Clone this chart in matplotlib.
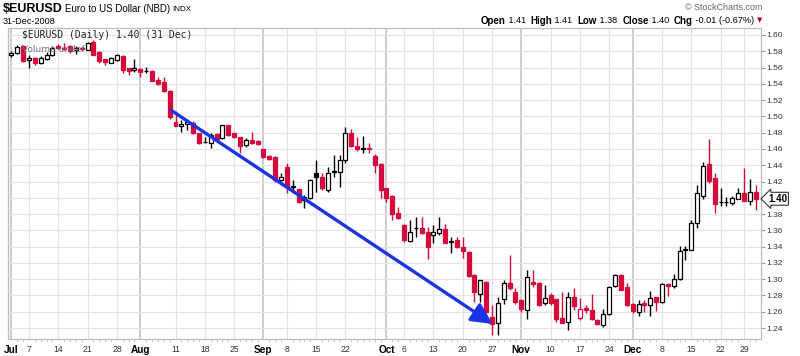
import numpy as np
import pandas as pd
import matplotlib
matplotlib.use("Agg")
import matplotlib.pyplot as plt

# --- data: EURUSD daily candles, Jul-Dec 2008 ---
holidays = ["2008-07-04", "2008-09-01", "2008-11-27", "2008-12-25"]

opens = [
    # Jul
    1.5760, 1.5780, 1.5860, 1.5690, 1.5720, 1.5650, 1.5700, 1.5760, 1.5860, 1.5840, 1.5860,
    1.5810, 1.5840, 1.5820, 1.5920, 1.5790, 1.5700, 1.5660, 1.5690, 1.5740, 1.5595, 1.5570,
    # Aug
    1.5580, 1.5560, 1.5560, 1.5450, 1.5420, 1.5310, 1.4935, 1.4880, 1.4903, 1.4915, 1.4790,
    1.4685, 1.4677, 1.4780, 1.4730, 1.4890, 1.4793, 1.4743, 1.4650, 1.4710, 1.4700,
    # Sep
    1.4599, 1.4513, 1.4497, 1.4220, 1.4382, 1.4135, 1.4104, 1.3973, 1.4000, 1.4300, 1.4251,
    1.4096, 1.4320, 1.4321, 1.4464, 1.4792, 1.4636, 1.4600, 1.4612, 1.4513, 1.4415,
    # Oct
    1.4116, 1.4022, 1.3809, 1.3666, 1.3473, 1.3625, 1.3625, 1.3584, 1.3543, 1.3571, 1.3612,
    1.3460, 1.3481, 1.3400, 1.3339, 1.3052, 1.2822, 1.2965, 1.2540, 1.2462, 1.2753, 1.2950, 1.2847,
    # Nov
    1.2745, 1.2622, 1.2970, 1.2958, 1.2704, 1.2806, 1.2753, 1.2520, 1.2479, 1.2778,
    1.2520, 1.2650, 1.2617, 1.2494, 1.2441, 1.2572, 1.2913, 1.3056, 1.2905,
    # Dec
    1.2700, 1.2593, 1.2712, 1.2687, 1.2777, 1.2716, 1.2946, 1.2913, 1.3003, 1.3356, 1.3356,
    1.3692, 1.4021, 1.4410, 1.4246, 1.3947, 1.3945, 1.3930, 1.3988, 1.4053, 1.3959, 1.4070,
]
highs = [
    1.5800, 1.5880, 1.5880, 1.5750, 1.5730, 1.5740, 1.5790, 1.5870, 1.5890, 1.5900, 1.5880,
    1.5860, 1.5850, 1.5920, 1.5940, 1.5800, 1.5710, 1.5730, 1.5770, 1.5750, 1.5600, 1.5700,
    1.5590, 1.5610, 1.5570, 1.5490, 1.5490, 1.5320, 1.5070, 1.4955, 1.4955, 1.4940, 1.4800,
    1.4750, 1.4790, 1.4790, 1.4900, 1.4900, 1.4800, 1.4750, 1.4735, 1.4804, 1.4715,
    1.4605, 1.4520, 1.4510, 1.4300, 1.4423, 1.4218, 1.4110, 1.4034, 1.4225, 1.4464, 1.4300,
    1.4380, 1.4526, 1.4526, 1.4865, 1.4840, 1.4750, 1.4759, 1.4677, 1.4540, 1.4423,
    1.4125, 1.4030, 1.3891, 1.3680, 1.3727, 1.3768, 1.3768, 1.3645, 1.3666, 1.3768, 1.3678,
    1.3522, 1.3522, 1.3522, 1.3345, 1.3060, 1.2995, 1.2975, 1.2683, 1.2775, 1.2995, 1.3298, 1.2890,
    1.2760, 1.3113, 1.3113, 1.2970, 1.2929, 1.2827, 1.2760, 1.2847, 1.2847, 1.2888,
    1.2765, 1.2683, 1.2818, 1.2510, 1.2634, 1.2913, 1.3069, 1.3064, 1.2954,
    1.2710, 1.2749, 1.2745, 1.2851, 1.2780, 1.2954, 1.2950, 1.3069, 1.3405, 1.3413, 1.3733,
    1.4152, 1.4439, 1.4718, 1.4308, 1.4123, 1.4010, 1.4021, 1.4123, 1.4369, 1.4226, 1.4152,
]
lows = [
    1.5730, 1.5770, 1.5670, 1.5600, 1.5630, 1.5640, 1.5690, 1.5740, 1.5830, 1.5820, 1.5780,
    1.5770, 1.5800, 1.5810, 1.5750, 1.5660, 1.5630, 1.5650, 1.5680, 1.5530, 1.5510, 1.5540,
    1.5490, 1.5530, 1.5430, 1.5380, 1.5300, 1.4970, 1.4880, 1.4810, 1.4830, 1.4780, 1.4660,
    1.4670, 1.4610, 1.4710, 1.4720, 1.4760, 1.4730, 1.4550, 1.4628, 1.4655, 1.4650,
    1.4490, 1.4460, 1.4200, 1.4210, 1.4055, 1.4055, 1.3940, 1.3870, 1.3980, 1.4075, 1.4100,
    1.4075, 1.4259, 1.4137, 1.4423, 1.4620, 1.4580, 1.4546, 1.4546, 1.4300, 1.3993,
    1.3952, 1.3727, 1.3740, 1.3460, 1.3461, 1.3522, 1.3560, 1.3244, 1.3440, 1.3543, 1.3440,
    1.3326, 1.3380, 1.3257, 1.3030, 1.2724, 1.2724, 1.2590, 1.2315, 1.2320, 1.2690, 1.2870, 1.2690,
    1.2601, 1.2507, 1.2909, 1.2670, 1.2683, 1.2683, 1.2479, 1.2458, 1.2376, 1.2622,
    1.2500, 1.2590, 1.2503, 1.2440, 1.2412, 1.2564, 1.2905, 1.2868, 1.2667,
    1.2585, 1.2544, 1.2601, 1.2544, 1.2605, 1.2708, 1.2790, 1.2892, 1.2987, 1.3241, 1.3356,
    1.3631, 1.3980, 1.4185, 1.3815, 1.3897, 1.3905, 1.3906, 1.3980, 1.3959, 1.3906, 1.3848,
]
closes = [
    1.5780, 1.5850, 1.5680, 1.5720, 1.5650, 1.5720, 1.5760, 1.5840, 1.5835, 1.5830, 1.5800,
    1.5840, 1.5830, 1.5900, 1.5760, 1.5680, 1.5665, 1.5720, 1.5750, 1.5565, 1.5558, 1.5600,
    1.5550, 1.5560, 1.5440, 1.5400, 1.5310, 1.4990, 1.4886, 1.4910, 1.4927, 1.4790, 1.4670,
    1.4680, 1.4770, 1.4722, 1.4894, 1.4770, 1.4743, 1.4640, 1.4710, 1.4669, 1.4661,
    1.4505, 1.4476, 1.4218, 1.4260, 1.4137, 1.4140, 1.3952, 1.4014, 1.4220, 1.4251, 1.4116,
    1.4300, 1.4322, 1.4464, 1.4792, 1.4636, 1.4595, 1.4608, 1.4605, 1.4403, 1.4096,
    1.3993, 1.3801, 1.3756, 1.3481, 1.3584, 1.3625, 1.3571, 1.3399, 1.3584, 1.3612, 1.3448,
    1.3461, 1.3400, 1.3347, 1.3040, 1.2837, 1.2985, 1.2601, 1.2448, 1.2712, 1.2950, 1.2890, 1.2724,
    1.2630, 1.3032, 1.2941, 1.2683, 1.2765, 1.2712, 1.2507, 1.2466, 1.2786, 1.2671,
    1.2630, 1.2617, 1.2511, 1.2454, 1.2572, 1.2905, 1.3056, 1.2872, 1.2687,
    1.2605, 1.2700, 1.2680, 1.2769, 1.2716, 1.2946, 1.2913, 1.3003, 1.3344, 1.3372, 1.3692,
    1.4053, 1.4390, 1.4205, 1.3918, 1.3947, 1.3948, 1.3998, 1.4053, 1.3959, 1.4070, 1.3988,
]

month_lines = ["2008-07-01", "2008-08-01", "2008-09-02", "2008-10-01", "2008-11-03", "2008-12-01"]
week_lines = ["2008-07-07", "2008-07-14", "2008-07-21", "2008-07-28", "2008-08-11", "2008-08-18",
              "2008-08-25", "2008-09-08", "2008-09-15", "2008-09-22", "2008-09-29", "2008-10-06",
              "2008-10-13", "2008-10-20", "2008-10-27", "2008-11-10", "2008-11-17", "2008-11-24",
              "2008-12-08", "2008-12-15", "2008-12-22", "2008-12-29"]
tick_dates = ["2008-07-01", "2008-07-07", "2008-07-14", "2008-07-21", "2008-07-28", "2008-08-01",
              "2008-08-11", "2008-08-18", "2008-08-25", "2008-09-02", "2008-09-08", "2008-09-15",
              "2008-09-22", "2008-10-01", "2008-10-06", "2008-10-13", "2008-10-20", "2008-10-27",
              "2008-11-03", "2008-11-10", "2008-11-17", "2008-11-24", "2008-12-01", "2008-12-08",
              "2008-12-15", "2008-12-22", "2008-12-29"]
tick_labels = ["Jul", "7", "14", "21", "28", "Aug", "11", "18", "25", "Sep", "8", "15", "22",
               "Oct", "6", "13", "20", "27", "Nov", "10", "17", "24", "Dec", "8", "15", "22", "29"]
month_names = ["Jul", "Aug", "Sep", "Oct", "Nov", "Dec"]

# trend arrow drawn on the chart (trading-day position, price)
arrow_from = (27.35, 1.507)
arrow_to = (82.1, 1.245)

RED = "#d50a3c"
GRID = "#e4e4e4"
HEAD_FONT = "Liberation Sans"


def main():
    days = pd.bdate_range("2008-07-01", "2008-12-31")
    days = days[~days.isin(pd.to_datetime(holidays))]
    pos = pd.Series(np.arange(len(days)), index=days)

    o = np.array(opens)
    h = np.array(highs)
    l = np.array(lows)
    c = np.array(closes)
    x = pos.values

    prev = np.r_[o[0], c[:-1]]
    colors = np.where(c < prev, RED, "black")
    faces = np.where(c < o, colors, "white")

    fig = plt.figure(figsize=(8, 3.56), dpi=100)
    ax = fig.add_axes([8 / 800, 1 - 339 / 356, 753 / 800, 311 / 356])

    # grid
    for d in week_lines:
        ax.axvline(pos[pd.Timestamp(d)], color=GRID, lw=0.9, zorder=0)
    for d in month_lines:
        ax.axvline(pos[pd.Timestamp(d)], color="#c8c8c8", lw=1.3, zorder=0)
    ax.set_yticks(np.arange(1.24, 1.6001, 0.02))
    ax.grid(axis="y", color=GRID, lw=0.9, zorder=0)
    ax.set_axisbelow(True)

    # candles
    ax.vlines(x, l, h, colors=colors, lw=1.0, zorder=2)
    ax.bar(x, np.maximum(np.abs(c - o), 0.0003), bottom=np.minimum(o, c), width=0.68,
           color=faces, edgecolor=colors, linewidth=0.9, zorder=3)

    # arrow
    ax.annotate("", xy=arrow_to, xytext=arrow_from,
                arrowprops=dict(arrowstyle="-|>,head_length=0.9,head_width=0.45",
                                color="#1b33e6", lw=2.4, shrinkA=0, shrinkB=0,
                                mutation_scale=14), zorder=5)

    ax.set_xlim(-0.58, 127.9)
    ax.set_ylim(1.2265, 1.6086)

    # axes styling
    for s in ax.spines.values():
        s.set_color("#bdbdbd")
        s.set_linewidth(0.9)
    ax.yaxis.tick_right()
    ax.tick_params(axis="y", length=3, color="#999999", labelsize=6, labelcolor="#333333", pad=1)
    # the 1.40 level is covered by the last-price tag
    ylabels = [f"{v:.2f}" for v in ax.get_yticks()]
    ylabels = ["" if s == "1.40" else s for s in ylabels]
    ax.set_yticklabels(ylabels, family=HEAD_FONT)

    ax.set_xticks([pos[pd.Timestamp(d)] for d in tick_dates])
    ax.set_xticklabels(tick_labels, family=HEAD_FONT)
    ax.tick_params(axis="x", length=0, pad=4, labelsize=6.2, labelcolor="#333333")
    for t in ax.get_xticklabels():
        if t.get_text() in month_names:
            t.set_fontweight("bold")
            t.set_fontsize(7.2)
            t.set_color("black")
    ax.set_xticks(x, minor=True)
    ax.tick_params(axis="x", which="minor", length=2, color="#c0c0c0", direction="out")

    # last price tag
    ax.annotate("1.40", xy=(1.0, c[-1]), xycoords=("axes fraction", "data"),
                xytext=(5, 0), textcoords="offset points", va="center", ha="left",
                fontsize=7, fontweight="bold", family=HEAD_FONT, annotation_clip=False,
                bbox=dict(boxstyle="larrow,pad=0.15", fc="white", ec="#333333", lw=0.8),
                zorder=10)

    # legend text inside the plot
    ax.text(0.019, 0.995, r"\$EURUSD (Daily) 1.40 (31 Dec)", transform=ax.transAxes,
            va="top", ha="left", fontsize=7, family="DejaVu Sans Mono", color="#222222")
    ax.text(0.019, 0.945, "Volume undef", transform=ax.transAxes,
            va="top", ha="left", fontsize=6.5, family="DejaVu Sans", color="#777777")

    # header
    fig.text(3 / 800, 1 - 9 / 356, r"\$EURUSD", fontsize=9, fontweight="bold",
             family=HEAD_FONT, va="center")
    fig.text(65 / 800, 1 - 9.5 / 356, "Euro to US Dollar (NBD)", fontsize=7,
             family=HEAD_FONT, va="center")
    fig.text(172 / 800, 1 - 9.5 / 356, "INDX", fontsize=5.8, family=HEAD_FONT, va="center")
    fig.text(3 / 800, 1 - 21.5 / 356, "31-Dec-2008", fontsize=6.6, family=HEAD_FONT, va="center")
    fig.text(762 / 800, 1 - 7 / 356, "\u00a9 StockCharts.com", fontsize=6.4,
             family=HEAD_FONT, color="#666666", ha="right", va="center")

    pieces = [("Open", True), (" 1.41  ", False), ("High", True), (" 1.41  ", False),
              ("Low", True), (" 1.38  ", False), ("Close", True), (" 1.40  ", False),
              ("Chg", True), (" -0.01 (-0.67%) ", False)]
    prev_t = fig.text(762 / 800, 1 - 20.5 / 356, "\u25bc", fontsize=5, color="#b0002a",
                      ha="right", va="center")
    for txt, bold in reversed(pieces):
        prev_t = ax.annotate(txt, xy=(0, 0.5), xycoords=prev_t, ha="right", va="center",
                             fontsize=7 if bold else 6.6, family=HEAD_FONT,
                             fontweight="bold" if bold else "normal", annotation_clip=False)

    fig.savefig("out.png", dpi=100)


if __name__ == "__main__":
    main()
